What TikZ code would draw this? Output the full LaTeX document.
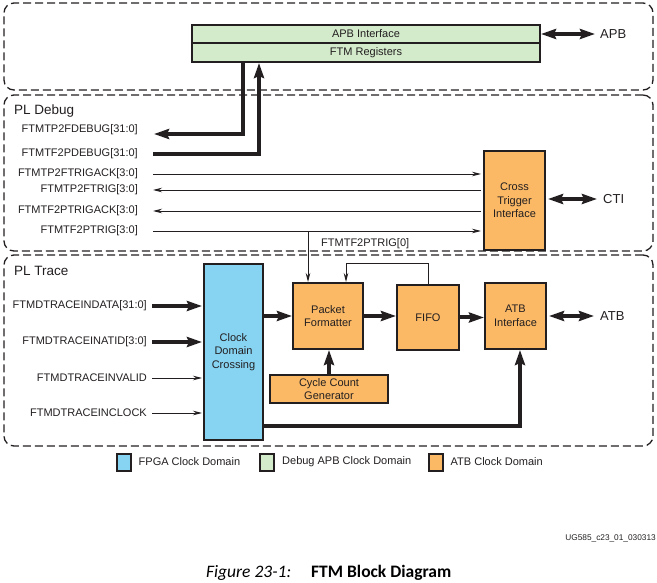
\documentclass[tikz,border=0pt]{standalone}
\usepackage{fontspec}
\setmainfont{Liberation Sans}
\newfontfamily\capfont{Carlito}
\usetikzlibrary{arrows.meta}
\definecolor{FpgaBlue}{RGB}{134,211,242}
\definecolor{ApbGreen}{RGB}{211,235,203}
\definecolor{AtbOrange}{RGB}{251,185,102}
\definecolor{InkGray}{RGB}{35,31,32}

\begin{document}
\begin{tikzpicture}[
                x=1pt,y=-1pt,
                blk/.style={draw=InkGray,line width=2pt,inner sep=0pt,align=center,text=InkGray,font=\fontsize{11}{13.5}\selectfont},
                obox/.style={blk,fill=AtbOrange},
                zone/.style={draw=InkGray,line width=1.3pt,dash pattern=on 8pt off 4pt,rounded corners=10pt,inner sep=0pt},
                sig/.style={InkGray,line width=0.9pt,-{Stealth[length=9pt,width=4.5pt]}},
                bus/.style={InkGray,line width=4pt,-{Stealth[length=15pt,width=10pt,inset=2pt]}},
                bbus/.style={InkGray,line width=4pt,{Stealth[length=15pt,width=10pt,inset=2pt]}-{Stealth[length=15pt,width=10pt,inset=2pt]}},
                lbl/.style={text=InkGray,inner sep=0pt,font=\fontsize{11}{13}\selectfont},
                port/.style={text=InkGray,inner sep=0pt,font=\fontsize{13}{15}\selectfont},
                ttl/.style={text=InkGray,inner sep=0pt,anchor=west,font=\fontsize{13.5}{16}\selectfont},
                key/.style={draw=InkGray,line width=2pt,minimum width=14pt,minimum height=17pt,inner sep=0pt}
            ]
                \useasboundingbox (0,0) rectangle (657,583);
                % Dashed clock regions
                \node[zone,minimum width=649pt,minimum height=87pt]  (apbzone) at (328.5,46.5) {};
                \node[zone,minimum width=649pt,minimum height=156pt] (dbgzone) at (328.5,173) {};
                \node[zone,minimum width=649pt,minimum height=191pt] (trczone) at (328.5,350.5) {};
                \node[ttl] (dbgtitle) at (14,111) {PL Debug};
                \node[ttl] (trctitle) at (14,271) {PL Trace};
                % --- APB side ---
                \node[blk,fill=ApbGreen,minimum width=348pt,minimum height=18pt] (apbif) at (366,34) {APB Interface};
                \node[blk,fill=ApbGreen,minimum width=348pt,minimum height=19pt] (ftmregs) at (366,52.5) {FTM Registers};
                \node[port,anchor=west] (apbport) at (600,34) {APB};
                \draw[bbus,shorten >=5pt] (apbif.east) -- (apbport.west);
                % --- PL Debug ---
                \node[lbl,anchor=east] (p2fdebug)   at (138,130) {FTMTP2FDEBUG[31:0]};
                \node[lbl,anchor=east] (f2pdebug)   at (138,154) {FTMTF2PDEBUG[31:0]};
                \node[lbl,anchor=east] (p2ftrigack) at (138,174) {FTMTP2FTRIGACK[3:0]};
                \node[lbl,anchor=east] (p2ftrig)    at (138,190) {FTMTP2FTRIG[3:0]};
                \node[lbl,anchor=east] (f2ptrigack) at (138,211) {FTMTF2PTRIGACK[3:0]};
                \node[lbl,anchor=east] (f2ptrig)    at (138,231) {FTMTF2PTRIG[3:0]};
                \node[obox,minimum width=61pt,minimum height=99pt] (cti) at (514.5,200.5) {Cross\\Trigger\\Interface};
                \node[port,anchor=west] (ctiport) at (603,199) {CTI};
                \draw[bbus,shorten <=2pt,shorten >=6pt] (cti.east |- ctiport.west) -- (ctiport.west);
                % Debug buses to and from the registers
                \draw[bus] ([xshift=-123pt]ftmregs.south) |- ([shift={(16,4)}]p2fdebug.east);
                \draw[bus] ([xshift=15pt]f2pdebug.east) -| ([xshift=-107pt]ftmregs.south);
                % Trigger lines
                \draw[sig,shorten <=15pt,shorten >=2pt] (p2ftrigack.east) -- (p2ftrigack.east -| cti.west);
                \draw[sig,shorten <=2pt,shorten >=15pt] (cti.west |- p2ftrig.east) -- (p2ftrig.east);
                \draw[sig,shorten <=2pt,shorten >=15pt] (cti.west |- f2ptrigack.east) -- (f2ptrigack.east);
                \draw[sig,shorten <=15pt,shorten >=2pt] (f2ptrig.east) -- (f2ptrig.east -| cti.west);
                % --- PL Trace ---
                \node[blk,fill=FpgaBlue,minimum width=59pt,minimum height=176pt] (cdc) at (233.5,352) {Clock\\Domain\\Crossing};
                \node[obox,minimum width=70pt,minimum height=66pt]  (pf)   at (328,316)   {Packet\\Formatter};
                \node[obox,minimum width=62pt,minimum height=65pt]  (fifo) at (428,317.5) {FIFO};
                \node[obox,minimum width=61pt,minimum height=66pt]  (atb)  at (515.5,316) {ATB\\Interface};
                \node[obox,minimum width=118pt,minimum height=28pt] (ccg)  at (329,389)   {Cycle Count\\Generator};
                \node[port,anchor=west] (atbport) at (600,316) {ATB};
                \node[lbl,anchor=west] (f2ptrig0) at (321,244) {FTMTF2PTRIG[0]};
                \node[lbl,anchor=east] (tdata)  at (147,306) {FTMDTRACEINDATA[31:0]};
                \node[lbl,anchor=east] (tatid)  at (147,342) {FTMDTRACEINATID[3:0]};
                \node[lbl,anchor=east] (tvalid) at (147,378) {FTMDTRACEINVALID};
                \node[lbl,anchor=east] (tclock) at (147,413) {FTMDTRACEINCLOCK};
                % Trace inputs
                \draw[bus,shorten <=5pt,shorten >=1pt] (tdata.east) -- (tdata.east -| cdc.west);
                \draw[bus,shorten <=5pt,shorten >=1pt] (tatid.east) -- (tatid.east -| cdc.west);
                \draw[sig,shorten <=5pt,shorten >=1pt] (tvalid.east) -- (tvalid.east -| cdc.west);
                \draw[sig,shorten <=5pt,shorten >=1pt] (tclock.east) -- (tclock.east -| cdc.west);
                % Trace data path
                \draw[bus] (cdc.east |- pf.west) -- (pf.west);
                \draw[bus] (pf.east) -- (pf.east -| fifo.west);
                \draw[bus] (fifo.east) -- (fifo.east -| atb.west);
                \draw[bbus,shorten <=2pt,shorten >=6pt] (atb.east) -- (atbport.west);
                \draw[bus] (ccg.north) -- (ccg.north |- pf.south);
                \draw[bus] ([shift={(0,74)}]cdc.east) -| ([xshift=4.5pt]atb.south);
                \draw[sig] (fifo.north) -- ++(0,-21) -| ([xshift=18pt]pf.north);
                \draw[sig] ([xshift=-20pt]pf.north |- f2ptrig.east) -- ([xshift=-20pt]pf.north);
                % Legend
                \foreach \col/\xx/\txt/\nm in {FpgaBlue/123.5/FPGA Clock Domain/fpga,ApbGreen/267/Debug APB Clock Domain/apb,AtbOrange/435.5/ATB Clock Domain/atb} {
                    \node[key,fill=\col] (key\nm) at (\xx,462) {};
                    \node[lbl,anchor=west] (txt\nm) at ([xshift=7pt]key\nm.east) {\txt};
                }
                % Caption
                \node[anchor=east,inner sep=0pt,font=\fontsize{8.3}{10}\selectfont,text=InkGray] (docid) at (656,538) {UG585\_c23\_01\_030313};
                \node[anchor=west,inner sep=0pt,font=\capfont\itshape\fontsize{17.5}{20}\selectfont] (figno) at (206,573) {Figure 23-1:};
                \node[anchor=west,inner sep=0pt,font=\capfont\bfseries\fontsize{17.5}{20}\selectfont] (figtitle) at (311,573) {FTM Block Diagram};
            \end{tikzpicture}
\end{document}
